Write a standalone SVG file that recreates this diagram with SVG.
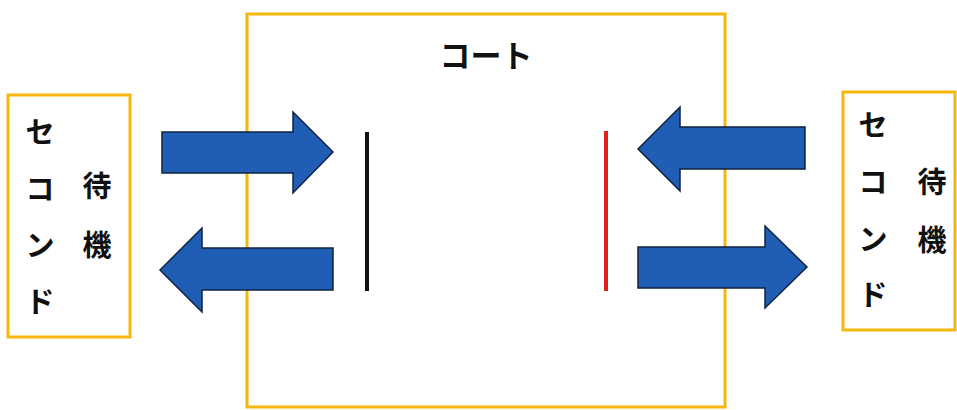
<svg xmlns="http://www.w3.org/2000/svg" width="957" height="410" viewBox="0 0 957 410">
<style>
.frame{fill:none;stroke:#f6b60a;stroke-width:3}
.arrow{fill:#1f5eb4;stroke:#10233f;stroke-width:1.5;stroke-linejoin:miter}
.lbl{font-family:"Noto Sans CJK JP","Noto Sans CJK SC",sans-serif;font-weight:bold;fill:#111;text-anchor:middle;dominant-baseline:central;font-size:29px}
</style>
<rect width="957" height="410" fill="#fff"/>
<g id="court">
<rect class="frame" x="247" y="14" width="478" height="393"/>
<text class="lbl" x="486" y="53" style="font-size:31px">コート</text>
</g>
<g id="left-second">
<rect class="frame" x="8" y="95" width="122" height="242"/>
<text class="lbl" x="40" y="130">セ</text>
<text class="lbl" x="40" y="187">コ</text>
<text class="lbl" x="40" y="243">ン</text>
<text class="lbl" x="40" y="300">ド</text>
<text class="lbl" x="97" y="184">待</text>
<text class="lbl" x="97" y="243">機</text>
</g>
<g id="right-second">
<rect class="frame" x="843" y="92" width="112" height="238"/>
<text class="lbl" x="873" y="123">セ</text>
<text class="lbl" x="873" y="180">コ</text>
<text class="lbl" x="873" y="237">ン</text>
<text class="lbl" x="873" y="293">ド</text>
<text class="lbl" x="932" y="180">待</text>
<text class="lbl" x="932" y="238">機</text>
</g>
<g id="black-player">
<line x1="367" y1="132" x2="367" y2="291" stroke="#111" stroke-width="4"/>
</g>
<g id="red-player">
<line x1="606" y1="131" x2="606" y2="291" stroke="#e0201a" stroke-width="4"/>
</g>
<g id="connectors">
<polygon class="arrow" points="162,132 293,132 293,112 333,152 293,193 293,173 162,173"/>
<polygon class="arrow" points="333,248 202,248 202,228 160,270 202,312 202,290 333,290"/>
<polygon class="arrow" points="805,127 680,127 680,107 638,149 680,191 680,169 805,169"/>
<polygon class="arrow" points="638,247 765,247 765,226 807,267 765,308 765,288 638,288"/>
</g>
</svg>
